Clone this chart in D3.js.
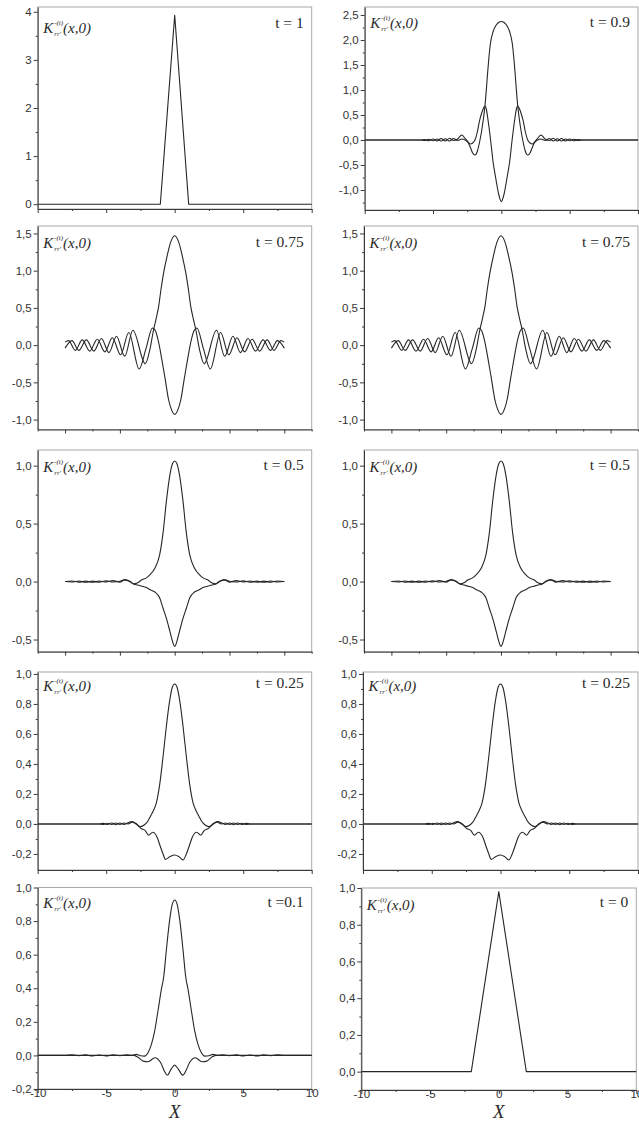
<!doctype html>
<html>
<head>
    <meta charset="utf-8">
    <title>K rr' (x,0) for several t</title>
    <style>
      body { margin: 0; background: #fff; }
    </style>
</head>
<body>

<div id="chart-area"></div>
<script src="https://d3js.org/d3.v7.min.js"></script>

<script type="text/javascript">
  // t = 1
  var t100X = [-10, -1.05, 0, 1.02, 10];
  var t100Y = [0, 0, 3.93, 0, 0];

  // t = 0.9 (two curves on one grid)
  var t090X = [-10, -6.0, -5.6, -5.3, -5.0, -4.7, -4.4, -4.1, -3.8, -3.5, -3.2, -2.9, -2.65, -2.45, -2.25, -2.1, -1.93, -1.75, -1.6, -1.45, -1.3, -1.2, -1.1, -1.0, -0.9, -0.8, -0.6, -0.4, -0.2,
    0,
    0.2, 0.4, 0.6, 0.8, 0.9, 1.0, 1.1, 1.2, 1.3, 1.45, 1.6, 1.75, 1.93, 2.1, 2.25, 2.45, 2.65, 2.9, 3.2, 3.5, 3.8, 4.1, 4.4, 4.7, 5.0, 5.3, 5.6, 6.0, 10];
  var t090A = [0, 0, 0.01, -0.015, 0.02, -0.02, 0.03, -0.02, 0.035, -0.01, 0.02, 0.1, 0.03, -0.04, -0.16, -0.26, -0.3, -0.22, -0.05, 0.17, 0.45, 0.68, 1.0, 1.36, 1.68, 1.93, 2.17, 2.29, 2.35,
    2.37,
    2.35, 2.29, 2.17, 1.93, 1.68, 1.36, 1.0, 0.68, 0.45, 0.17, -0.05, -0.22, -0.3, -0.26, -0.16, -0.04, 0.03, 0.1, 0.02, -0.01, 0.035, -0.02, 0.03, -0.02, 0.02, -0.015, 0.01, 0, 0];
  var t090B = [0, 0, -0.01, 0.015, -0.015, 0.02, -0.02, 0.025, -0.02, 0.03, -0.01, 0.02, 0.0, -0.04, -0.08, -0.06, 0.0, 0.17, 0.38, 0.53, 0.64, 0.68, 0.62, 0.45, 0.25, 0.03, -0.45, -0.78, -1.08,
    -1.23,
    -1.08, -0.78, -0.45, 0.03, 0.25, 0.45, 0.62, 0.68, 0.64, 0.53, 0.38, 0.17, 0.0, -0.06, -0.08, -0.04, 0.0, 0.02, -0.01, 0.03, -0.02, 0.025, -0.02, 0.02, -0.015, 0.015, -0.01, 0, 0];

  // t = 0.75
  var t075AX = [-8, -7.5, -7.0, -6.45, -5.9, -5.35, -4.8, -4.25, -3.65, -3.05, -2.15, -1.8, -1.55, -1.35, -1.17, -1.0, -0.8, -0.55, -0.3,
    0,
    0.3, 0.55, 0.8, 1.0, 1.17, 1.35, 1.55, 1.8, 2.15, 3.05, 3.65, 4.25, 4.8, 5.35, 5.9, 6.45, 7.0, 7.5, 8];
  var t075A = [-0.04, 0.06, -0.07, 0.07, -0.08, 0.09, -0.1, 0.12, -0.15, 0.2, -0.25, -0.05, 0.2, 0.36, 0.52, 0.75, 0.98, 1.2, 1.38,
    1.47,
    1.38, 1.2, 0.98, 0.75, 0.52, 0.36, 0.2, -0.05, -0.25, 0.2, -0.15, 0.12, -0.1, 0.09, -0.08, 0.07, -0.07, 0.06, -0.04];
  var t075BX = [-8, -7.75, -7.25, -6.75, -6.2, -5.65, -5.1, -4.55, -3.95, -3.35, -2.6, -2.1, -1.62, -1.4, -1.2, -0.95, -0.7, -0.45, -0.25,
    0,
    0.25, 0.45, 0.7, 0.95, 1.2, 1.4, 1.62, 2.1, 2.6, 3.35, 3.95, 4.55, 5.1, 5.65, 6.2, 6.75, 7.25, 7.75, 8];
  var t075B = [0.04, 0.06, -0.07, 0.07, -0.08, 0.08, -0.09, 0.1, -0.13, 0.17, -0.32, -0.05, 0.23, 0.19, 0.06, -0.18, -0.45, -0.73, -0.86,
    -0.93,
    -0.86, -0.73, -0.45, -0.18, 0.06, 0.19, 0.23, -0.05, -0.32, 0.17, -0.13, 0.1, -0.09, 0.08, -0.08, 0.07, -0.07, 0.06, 0.04];

  // t = 0.5
  var t050X = [-8, -7.5, -7.0, -6.5, -6.0, -5.5, -5.0, -4.5, -4.0, -3.65, -3.3, -3.0, -2.7, -2.4, -2.1, -1.8, -1.45, -1.1, -0.85, -0.6, -0.35, -0.15,
    0,
    0.15, 0.35, 0.6, 0.85, 1.1, 1.45, 1.8, 2.1, 2.4, 2.7, 3.0, 3.3, 3.65, 4.0, 4.5, 5.0, 5.5, 6.0, 6.5, 7.0, 7.5, 8];
  var t050A = [0, 0.005, -0.005, 0.004, -0.006, 0.005, -0.004, 0.008, -0.005, 0.015, 0.0, -0.02, -0.01, 0.015, 0.03, 0.06, 0.115, 0.23, 0.42, 0.7, 0.92, 1.02,
    1.04,
    1.02, 0.92, 0.7, 0.42, 0.23, 0.115, 0.06, 0.03, 0.015, -0.01, -0.02, 0.0, 0.015, -0.005, 0.008, -0.004, 0.005, -0.006, 0.004, -0.005, 0.005, 0];
  var t050B = [0, -0.004, 0.005, -0.006, 0.004, -0.005, 0.006, -0.004, 0.003, 0.015, 0.005, -0.02, -0.03, -0.04, -0.05, -0.07, -0.09, -0.14, -0.23, -0.32, -0.43, -0.52,
    -0.56,
    -0.52, -0.43, -0.32, -0.23, -0.14, -0.09, -0.07, -0.05, -0.04, -0.03, -0.02, 0.005, 0.015, 0.003, -0.004, 0.006, -0.005, 0.004, -0.006, 0.005, -0.004, 0];

  // t = 0.25
  var t025AX = [-10, -5.5, -5.2, -4.9, -4.6, -4.3, -4.0, -3.7, -3.4, -3.15, -2.85, -2.5, -2.2, -1.95, -1.78, -1.55, -1.34, -1.1, -0.85, -0.61, -0.37, -0.18,
    0,
    0.18, 0.37, 0.61, 0.85, 1.1, 1.34, 1.55, 1.78, 1.95, 2.2, 2.5, 2.85, 3.15, 3.4, 3.7, 4.0, 4.3, 4.6, 4.9, 5.2, 5.5, 10];
  var t025A = [0, 0, 0.004, -0.004, 0.006, -0.005, 0.006, -0.004, 0.008, 0.016, 0.005, -0.018, -0.005, 0.02, 0.05, 0.09, 0.14, 0.26, 0.45, 0.65, 0.82, 0.91,
    0.933,
    0.91, 0.82, 0.65, 0.45, 0.26, 0.14, 0.09, 0.05, 0.02, -0.005, -0.018, 0.005, 0.016, 0.008, -0.004, 0.006, -0.005, 0.006, -0.004, 0.004, 0, 0];
  var t025BX = [-10, -5.5, -5.2, -4.9, -4.6, -4.3, -4.0, -3.7, -3.4, -3.1, -2.75, -2.45, -2.15, -1.9, -1.6, -1.3, -1.05, -0.85, -0.68, -0.3,
    0,
    0.3, 0.61, 0.85, 1.05, 1.3, 1.6, 1.9, 2.15, 2.45, 2.75, 3.1, 3.4, 3.7, 4.0, 4.3, 4.6, 4.9, 5.2, 5.5, 10];
  var t025B = [0, 0, -0.004, 0.005, -0.004, 0.006, -0.004, 0.006, 0.0, 0.012, -0.005, -0.03, -0.045, -0.075, -0.055, -0.085, -0.15, -0.2, -0.236, -0.215,
    -0.207,
    -0.218, -0.24, -0.2, -0.15, -0.085, -0.055, -0.075, -0.045, -0.03, -0.005, 0.012, 0.0, 0.006, -0.004, 0.006, -0.004, 0.005, -0.004, 0, 0];

  // t = 0.1
  var t010AX = [-10, -8, -7.5, -7, -6.5, -6, -5.5, -5, -4.5, -4, -3.5, -3.2, -2.8, -2.5, -2.2, -1.95, -1.7, -1.46, -1.22, -0.98, -0.8, -0.61, -0.37, -0.18,
    0,
    0.18, 0.37, 0.61, 0.8, 0.98, 1.22, 1.46, 1.7, 1.95, 2.2, 2.5, 2.8, 3.2, 3.5, 4, 4.5, 5, 5.5, 6, 6.5, 7, 7.5, 8, 10];
  var t010A = [0, 0, 0.003, -0.002, 0.003, -0.003, 0.002, -0.003, 0.003, -0.002, 0.003, 0, 0.006, -0.002, -0.004, 0.016, 0.066, 0.146, 0.266, 0.39, 0.47, 0.626, 0.806, 0.9,
    0.926,
    0.9, 0.806, 0.626, 0.47, 0.39, 0.266, 0.146, 0.066, 0.016, -0.004, -0.002, 0.006, 0, 0.003, -0.002, 0.003, -0.003, 0.002, -0.003, 0.003, -0.002, 0.003, 0, 0];
  var t010BX = [-10, -3.0, -2.7, -2.3, -1.95, -1.45, -1.02, -0.75, -0.54, -0.25, 0, 0.25, 0.6, 0.8, 1.08, 1.5, 2.0, 2.35, 2.7, 3.0, 10];
  var t010B = [0, 0, -0.01, -0.034, -0.038, -0.014, -0.044, -0.094, -0.118, -0.08, -0.058, -0.08, -0.118, -0.094, -0.044, -0.014, -0.038, -0.034, -0.01, 0, 0];

  // t = 0
  var t000X = [-10, -2, 0, 2, 10];
  var t000Y = [0, 0, 0.98, 0, 0];

  // tick values
  var xTicks5 = [-10, -5, 0, 5, 10];
  var xMinor5 = [-7.5, -2.5, 2.5, 7.5];
  var xTicks4 = [-8, -4, 0, 4, 8];
  var xMinor4 = [-10, -6, -2, 2, 6, 10];
  var yTicksT100 = [0, 1, 2, 3, 4];
  var yMinorT100 = [0.5, 1.5, 2.5, 3.5];
  var yTicksT090 = [-1.0, -0.5, 0, 0.5, 1.0, 1.5, 2.0, 2.5];
  var yMinorT090 = [-1.25, -0.75, -0.25, 0.25, 0.75, 1.25, 1.75, 2.25];
  var yTicksT075 = [-1.0, -0.5, 0, 0.5, 1.0, 1.5];
  var yMinorT075 = [-0.75, -0.25, 0.25, 0.75, 1.25];
  var yTicksT050 = [-0.5, 0, 0.5, 1.0];
  var yMinorT050 = [-0.25, 0.25, 0.75];
  var yTicksT025 = [-0.2, 0, 0.2, 0.4, 0.6, 0.8, 1.0];
  var yMinorT025 = [-0.1, 0.1, 0.3, 0.5, 0.7, 0.9];
  var yTicksT000 = [0, 0.2, 0.4, 0.6, 0.8, 1.0];
  var yMinorT000 = [0.1, 0.3, 0.5, 0.7, 0.9];

  var locale = d3.formatLocale({decimal: ',', thousands: ' ', grouping: [3], currency: ['', ''], minus: '-'});
  var fmtInt = locale.format('d');
  var fmtDec = locale.format('.1f');

  var panels = [
    {x0: 37.7, x1: 311.7, top: 7, bottom: 209, yDom: [-0.1, 4.1], yTicks: yTicksT100, yMinor: yMinorT100, yFmt: fmtInt,
      xTicks: xTicks5, xMinor: xMinor5, xLabels: false, smooth: false, kDy: 26, tDy: 21, title: 't = 1',
      series: [[t100X, t100Y]]},
    {x0: 364.7, x1: 638, top: 7, bottom: 210, yDom: [-1.4, 2.66], yTicks: yTicksT090, yMinor: yMinorT090, yFmt: fmtDec,
      xTicks: xTicks5, xMinor: xMinor5, xLabels: false, smooth: true, kDy: 21, tDy: 20, title: 't = 0.9',
      series: [[t090X, t090A], [t090X, t090B]]},
    {x0: 37.7, x1: 311.7, top: 226, bottom: 429.5, yDom: [-1.133, 1.6], yTicks: yTicksT075, yMinor: yMinorT075, yFmt: fmtDec,
      xTicks: xTicks4, xMinor: xMinor4, xLabels: false, smooth: true, kDy: 22, tDy: 21, title: 't = 0.75',
      series: [[t075AX, t075A], [t075BX, t075B]]},
    {x0: 364, x1: 638, top: 226, bottom: 429.5, yDom: [-1.133, 1.6], yTicks: yTicksT075, yMinor: yMinorT075, yFmt: fmtDec,
      xTicks: xTicks4, xMinor: xMinor4, xLabels: false, smooth: true, kDy: 22, tDy: 21, title: 't = 0.75',
      series: [[t075AX, t075A], [t075BX, t075B]]},
    {x0: 37.7, x1: 311.7, top: 450, bottom: 651.7, yDom: [-0.605, 1.135], yTicks: yTicksT050, yMinor: yMinorT050, yFmt: fmtDec,
      xTicks: xTicks4, xMinor: xMinor4, xLabels: false, smooth: true, kDy: 22, tDy: 20, title: 't = 0.5',
      series: [[t050X, t050A], [t050X, t050B]]},
    {x0: 364, x1: 638, top: 450, bottom: 651.7, yDom: [-0.605, 1.135], yTicks: yTicksT050, yMinor: yMinorT050, yFmt: fmtDec,
      xTicks: xTicks4, xMinor: xMinor4, xLabels: false, smooth: true, kDy: 22, tDy: 20, title: 't = 0.5',
      series: [[t050X, t050A], [t050X, t050B]]},
    {x0: 37.7, x1: 311.7, top: 672, bottom: 870, yDom: [-0.307, 1.013], yTicks: yTicksT025, yMinor: yMinorT025, yFmt: fmtDec,
      xTicks: xTicks5, xMinor: xMinor5, xLabels: false, smooth: true, kDy: 19, tDy: 16, title: 't = 0.25',
      series: [[t025AX, t025A], [t025BX, t025B]]},
    {x0: 363, x1: 638, top: 672, bottom: 870, yDom: [-0.307, 1.013], yTicks: yTicksT025, yMinor: yMinorT025, yFmt: fmtDec,
      xTicks: xTicks5, xMinor: xMinor5, xLabels: false, smooth: true, kDy: 19, tDy: 16, title: 't = 0.25',
      series: [[t025AX, t025A], [t025BX, t025B]]},
    {x0: 37.7, x1: 311.7, top: 887.5, bottom: 1089, yDom: [-0.2, 1.0], yTicks: yTicksT025, yMinor: yMinorT025, yFmt: fmtDec,
      xTicks: xTicks5, xMinor: xMinor5, xLabels: true, smooth: true, kDy: 20.5, tDy: 19, title: 't =0.1',
      series: [[t010AX, t010A], [t010BX, t010B]]},
    {x0: 361.3, x1: 636.3, top: 888, bottom: 1090, yDom: [-0.1, 1.0], yTicks: yTicksT000, yMinor: yMinorT000, yFmt: fmtDec,
      xTicks: xTicks5, xMinor: xMinor5, xLabels: true, smooth: false, kDy: 22, tDy: 19, title: 't = 0',
      series: [[t000X, t000Y]]}
  ];

  var svg = d3.select('#chart-area')
      .append('svg')
      .attr('width', 639)
      .attr('height', 1123)
      .style('display', 'block')
      .style('background', '#fff');

  var axisColor = '#3a3a3a';
  var tickFont = '"Liberation Sans", Arial, sans-serif';
  var serif = '"Liberation Serif", "Times New Roman", serif';

  function styleAxis(sel) {
    sel.select('.domain').attr('stroke', axisColor);
    sel.selectAll('.tick line').attr('stroke', axisColor);
    sel.selectAll('.tick text')
        .attr('fill', '#333')
        .attr('font-family', tickFont)
        .attr('font-size', '11.5px');
  }

  function drawPanel(p) {
    var x = d3.scaleLinear().domain([-10, 10]).range([p.x0, p.x1]);
    var y = d3.scaleLinear().domain(p.yDom).range([p.bottom, p.top]);
    var g = svg.append('g');

    // frame
    g.append('rect')
        .attr('x', p.x0)
        .attr('y', p.top)
        .attr('width', p.x1 - p.x0)
        .attr('height', p.bottom - p.top)
        .attr('fill', 'none')
        .attr('stroke', '#a8a8a8');

    var line = d3.line()
        .x(function(d) { return x(d[0]); })
        .y(function(d) { return y(d[1]); })
        .curve(p.smooth ? d3.curveMonotoneX : d3.curveLinear);

    p.series.forEach(function(s) {
      g.append('path')
          .datum(d3.zip(s[0], s[1]))
          .attr('d', line)
          .attr('fill', 'none')
          .attr('stroke', '#262626')
          .attr('stroke-width', 1.1)
          .attr('stroke-linejoin', 'round');
    });

    // y axis
    var yAxis = g.append('g').attr('transform', 'translate(' + p.x0 + ',0)');
    yAxis.call(d3.axisLeft(y).tickValues(p.yTicks).tickSize(4).tickSizeOuter(0).tickPadding(2).tickFormat(p.yFmt));
    styleAxis(yAxis);
    var yMinor = g.append('g').attr('transform', 'translate(' + p.x0 + ',0)');
    yMinor.call(d3.axisLeft(y).tickValues(p.yMinor).tickSize(2).tickFormat(''));
    yMinor.select('.domain').remove();
    styleAxis(yMinor);

    // x axis
    var xAxis = g.append('g').attr('transform', 'translate(0,' + p.bottom + ')');
    xAxis.call(d3.axisBottom(x).tickValues(p.xTicks).tickSize(4).tickSizeOuter(0).tickPadding(-4)
        .tickFormat(p.xLabels ? fmtInt : ''));
    styleAxis(xAxis);
    var xMinor = g.append('g').attr('transform', 'translate(0,' + p.bottom + ')');
    xMinor.call(d3.axisBottom(x).tickValues(p.xMinor).tickSize(2).tickFormat(''));
    xMinor.select('.domain').remove();
    styleAxis(xMinor);

    // curve name
    var k = g.append('text')
        .attr('x', p.x0 + 5.5)
        .attr('y', p.top + p.kDy)
        .attr('font-family', serif)
        .attr('font-style', 'italic')
        .attr('font-size', '15px')
        .attr('fill', '#2a2a2a');
    k.append('tspan').text('K');
    k.append('tspan').attr('font-size', '7px').attr('dx', 1).attr('dy', -8).text('-(t)');
    k.append('tspan').attr('font-size', '7px').attr('dx', -9).attr('dy', 11).text('rr\'');
    k.append('tspan').attr('font-size', '15px').attr('dx', 2).attr('dy', -3).text('(x,0)');

    g.append('text')
        .attr('x', p.x1 - 8)
        .attr('y', p.top + p.tDy)
        .attr('text-anchor', 'end')
        .attr('font-family', serif)
        .attr('font-size', '15.5px')
        .attr('fill', '#2a2a2a')
        .text(p.title);

    if (p.xLabels) {
      g.append('text')
          .attr('x', x(0))
          .attr('y', 1118)
          .attr('text-anchor', 'middle')
          .attr('font-family', serif)
          .attr('font-style', 'italic')
          .attr('font-size', '19px')
          .attr('fill', '#2a2a2a')
          .text('X');
    }
  }

  panels.forEach(drawPanel);
</script>

</body>
</html>
